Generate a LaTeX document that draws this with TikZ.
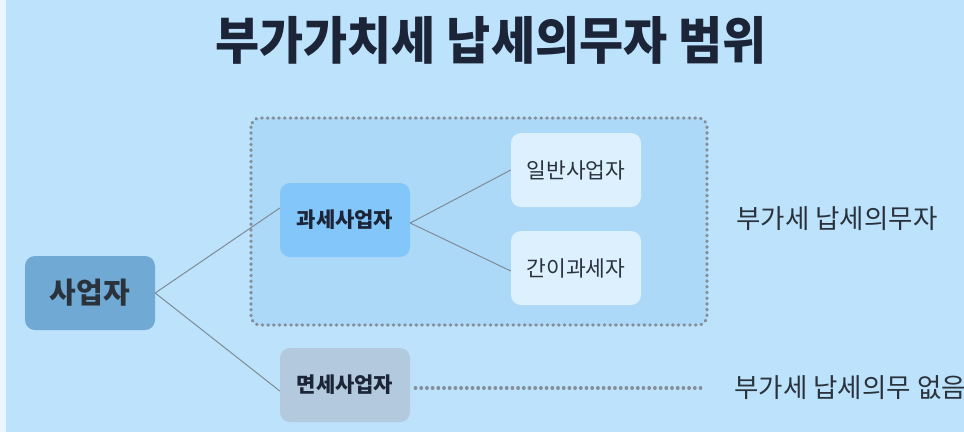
\documentclass[tikz,border=0pt]{standalone}
\usepackage{fontspec}
\setmainfont{Noto Sans CJK KR}
\usepackage{tikz}

\definecolor{bgblue}{HTML}{BCE2FC}
\definecolor{zoneblue}{HTML}{ADD9F8}
\definecolor{rootblue}{HTML}{6FA9D4}
\definecolor{taxblue}{HTML}{83C6FA}
\definecolor{freegray}{HTML}{B2C9DE}
\definecolor{leafblue}{HTML}{DDF0FD}
\definecolor{linegray}{HTML}{7F8B97}
\definecolor{dotgray}{HTML}{858F9A}
\definecolor{inkdark}{HTML}{1C2438}
\definecolor{inkgray}{HTML}{2A323C}

\begin{document}
\begin{tikzpicture}[x=1pt,y=-1pt,
  box/.style={rounded corners=10pt,minimum width=130pt,minimum height=74pt,inner sep=0pt,text=inkdark},
  conn/.style={draw=linegray,line width=1pt},
  dots/.style={draw=dotgray,line width=3.2pt,line cap=round,dash pattern=on 0.6pt off 5.1pt}]
  \useasboundingbox (0,0) rectangle (964,432);
  \fill[bgblue] (0,0) rectangle (964,432);
  \fill[white!70!bgblue] (0,0) rectangle (6,432);

  \node (title) at (491,40) {\scalebox{0.94}[1]{\fontsize{51}{51}\selectfont\bfseries\color{inkdark}부가가치세 납세의무자 범위}};

  % taxable zone
  \draw[dots,fill=zoneblue,rounded corners=9pt] (251,118) rectangle (707,325);

  \node[box,fill=rootblue,text=inkgray] (saeop) at (90,293) {\fontsize{29}{29}\selectfont\bfseries 사업자};
  \node[box,fill=taxblue] (gwase) at (345,220) {\fontsize{21}{21}\selectfont\bfseries 과세사업자};
  \node[box,fill=freegray] (myeonse) at (345,385) {\fontsize{21}{21}\selectfont\bfseries 면세사업자};
  \node[box,fill=leafblue,text=inkgray] (ilban) at (576,170) {\fontsize{21.5}{21.5}\selectfont 일반사업자};
  \node[box,fill=leafblue,text=inkgray] (ganyi) at (576,268) {\fontsize{21.5}{21.5}\selectfont 간이과세자};

  \node[anchor=west,text=inkgray] (duty) at (733,219) {\fontsize{26.5}{26.5}\selectfont 부가세 납세의무자};
  \node[anchor=west,text=inkgray] (noduty) at (731,388) {\fontsize{26.5}{26.5}\selectfont 부가세 납세의무 없음};

  \draw[conn] (saeop.east) -- ([yshift=12pt]gwase.west);
  \draw[conn] (saeop.east) -- ([yshift=-6pt]myeonse.west);
  \draw[conn] ([yshift=-3pt]gwase.east) -- (ilban.west);
  \draw[conn] ([yshift=-3pt]gwase.east) -- ([yshift=-3pt]ganyi.west);
  \coordinate (dotend) at (705,388);
  \draw[dots] ([xshift=5pt,yshift=-3pt]myeonse.east) -- (dotend);
\end{tikzpicture}
\end{document}
